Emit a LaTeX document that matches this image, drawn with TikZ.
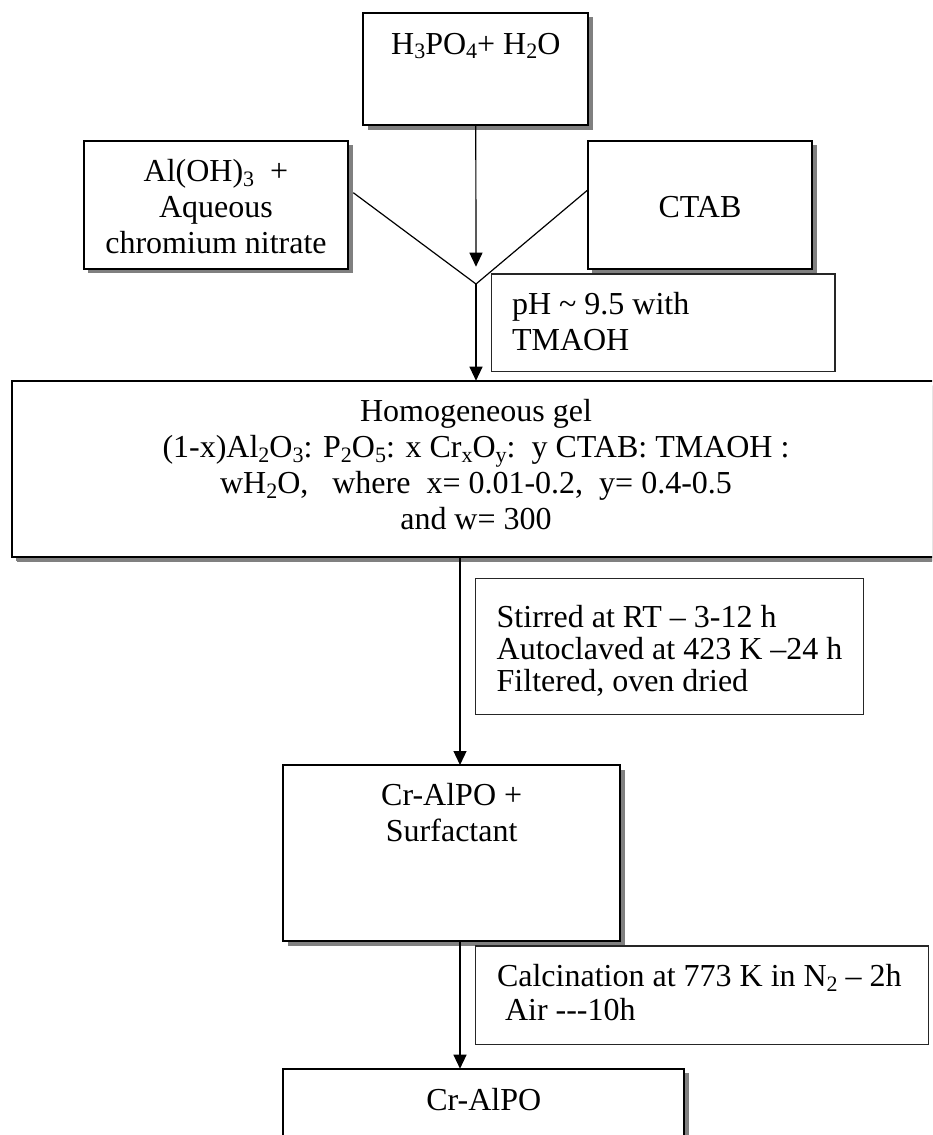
\documentclass[tikz,border=0pt]{standalone}
\usepackage{fontspec}
\setmainfont{Liberation Serif}
\usetikzlibrary{arrows.meta,shadows,calc}
\newcommand\chsub[1]{\raisebox{-4.5pt}{\fontsize{22}{22}\selectfont #1}}
\newcommand\lnstrut{\rule{0pt}{25pt}}
\tikzset{
  every node/.style={font=\fontsize{32}{36}\selectfont},
  sbox/.style={draw=black, line width=1.7pt, fill=white, outer sep=0pt, inner sep=0pt,
    anchor=north west,
    drop shadow={shadow xshift=4.5pt, shadow yshift=-4.5pt, fill=black!50, opacity=1}},
  gbox/.style={sbox, line width=2.2pt,
    drop shadow={shadow xshift=5pt, shadow yshift=-5.5pt, fill=black!50, opacity=1}},
  pbox/.style={draw=black!85, line width=1.1pt, fill=white, outer sep=0pt, inner sep=0pt,
    anchor=north west},
  txt/.style={inner sep=0pt, outer sep=0pt},
  arr/.style={line width=1.2pt, -{Triangle[length=14pt,width=13pt]}},
  ln/.style={line width=1.2pt}
}
\begin{document}
\begin{tikzpicture}[x=1pt,y=-1pt]
\useasboundingbox (0,0) rectangle (932,1135);
\clip (0,0) rectangle (932,1135);
\fill[white] (0,0) rectangle (932,1135);

% boxes
\node[sbox, minimum width=225pt, minimum height=112.3pt] (h3) at (363.3,12.7) {};
\node[sbox, minimum width=264.6pt, minimum height=128pt] (al) at (83.7,140.7) {};
\node[sbox, minimum width=224.6pt, minimum height=128pt] (ctab) at (587.7,140.7) {};
\node[pbox, minimum width=343.3pt, minimum height=97.7pt] (ph) at (491.7,274) {};
\node[gbox, minimum width=928.6pt, minimum height=176pt] (gel) at (11.7,380.7) {};
\node[pbox, minimum width=387.6pt, minimum height=136pt] (stir) at (475.7,578.3) {};
\node[sbox, minimum width=336.7pt, minimum height=176pt] (surf) at (283.3,765) {};
\node[pbox, minimum width=453.2pt, minimum height=98.3pt] (calc) at (475.5,946) {};
\node[sbox, minimum width=401pt, minimum height=120pt] (crpo) at (283.3,1068.7) {};

% texts
\node[txt, anchor=base] (h3t) at (475.8,54) {H\chsub{3}PO\chsub{4}+ H\chsub{2}O};
\node[txt, anchor=north, align=center] (alt) at (216,156.7)
  {\lnstrut Al(OH)\chsub{3}\ \ +\\\lnstrut Aqueous\\\lnstrut chromium nitrate};
\node[txt, anchor=base] (ctabt) at (700,217.7) {CTAB};
\node[txt, anchor=north west, align=left] (pht) at (512,289)
  {\lnstrut pH \textasciitilde{} 9.5 with\\\lnstrut TMAOH};
\node[txt, anchor=north, align=center] (gelt) at (476,396.7)
  {\lnstrut Homogeneous gel\\
   \lnstrut (1-x)Al\chsub{2}O\chsub{3}: P\chsub{2}O\chsub{5}: x Cr\chsub{x}O\chsub{y}:\ \ y CTAB: TMAOH :\\
   \lnstrut wH\chsub{2}O,\ \ \ where\ \ x= 0.01-0.2,\ \ y= 0.4-0.5\\
   \lnstrut and w= 300};
\node[txt, anchor=north west, align=left, font=\fontsize{32}{32.2}\selectfont] (stirt) at (496.7,602.3)
  {\lnstrut Stirred at RT – 3-12 h\\\lnstrut Autoclaved at 423 K –24 h\\\lnstrut Filtered, oven dried};
\node[txt, anchor=north, align=center, font=\fontsize{32}{36.7}\selectfont] (surft) at (451.7,780)
  {\lnstrut Cr-AlPO +\\\lnstrut Surfactant};
\node[txt, anchor=north west, align=left, font=\fontsize{32}{33.3}\selectfont] (calct) at (497,961.7)
  {\lnstrut Calcination at 773 K in N\chsub{2} – 2h\\\lnstrut\hspace*{8pt}Air -{}-{}-10h};
\node[txt, anchor=base] (crpot) at (483.8,1110) {Cr-AlPO};

% connectors
\coordinate (vx) at (476,284);
\coordinate (vl) at (353.3,192.7);
\coordinate (lx) at (460,0);
\draw[ln] (vl) -- (vx) -- ([yshift=14.7pt]ctab.west);
\draw[arr, shorten >=17.3pt] (h3.south) -- (vx);
\draw[arr] (vx) -- (gel.north);
\draw[arr] (lx |- gel.south) -- (lx |- surf.north);
\draw[arr] (lx |- surf.south) -- (lx |- crpo.north);
\end{tikzpicture}
\end{document}
